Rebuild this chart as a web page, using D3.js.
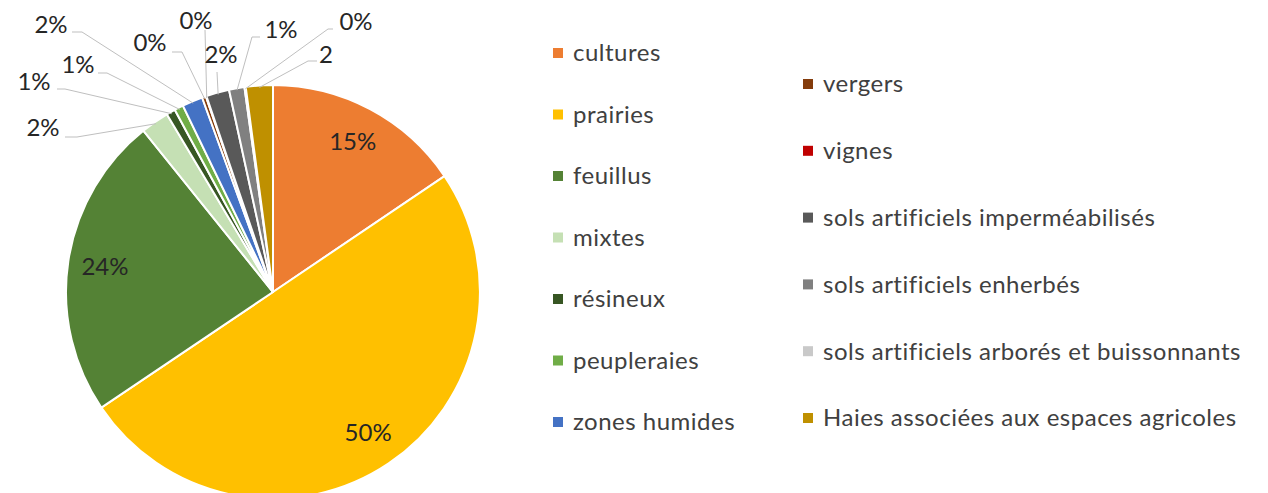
<!DOCTYPE html>
<html>
<head>
<meta charset="utf-8">
<script src="https://cdn.jsdelivr.net/npm/d3@7"></script>
<style>
  body { margin: 0; background: #fff; }
  text { font-family: Lato, "Open Sans", sans-serif; }
</style>
</head>
<body>
<div id="chart"></div>
<script>
// categories in clockwise order, starting at 12 o'clock
var categories = ["cultures", "prairies", "feuillus", "mixtes", "résineux", "peupleraies",
  "zones humides", "vergers", "vignes", "sols artificiels imperméabilisés",
  "sols artificiels enherbés", "sols artificiels arborés et buissonnants",
  "Haies associées aux espaces agricoles"];
// share of surface (%)
var shares = [15.5, 49.9, 23.6, 2.2, 0.7, 0.7, 1.6, 0.3, 0.05, 1.8, 1.2, 0.1, 2.1];
// the labels as printed on the chart (the last one is clipped in the original)
var labelTexts = ["15%", "50%", "24%", "2%", "1%", "1%", "2%", "0%", "0%", "2%", "1%", "0%", "2"];
var colors = ["#ED7D31", "#FFC000", "#548235", "#C5E0B4", "#375623", "#70AD47",
  "#4472C4", "#843C0C", "#C00000", "#595959", "#808080", "#C9C9C9", "#BF9000"];

var svgWidth = 1268;
var svgHeight = 493;
var cx = 273, cy = 292, radius = 207;

var svg = d3.select("#chart")
  .append("svg")
  .attr("width", svgWidth)
  .attr("height", svgHeight);

var data = categories.map(function(c, i) {
  return { name: c, value: shares[i], label: labelTexts[i], color: colors[i] };
});

var pie = d3.pie().sort(null).value(d => d.value);
var arcs = pie(data);

var arc = d3.arc().innerRadius(0).outerRadius(radius);
var labelArc = d3.arc().innerRadius(170).outerRadius(170);

var pieGroup = svg.append("g")
  .attr("transform", `translate(${cx}, ${cy})`);

pieGroup.selectAll("path")
  .data(arcs)
  .enter()
  .append("path")
  .attr("d", arc)
  .attr("fill", d => d.data.color)
  .attr("stroke", "#fff")
  .attr("stroke-width", 2)
  .attr("stroke-linejoin", "round");

// big slices: label inside
pieGroup.selectAll("text.inside")
  .data(arcs.slice(0, 3))
  .enter()
  .append("text")
  .attr("class", "inside")
  .attr("transform", d => `translate(${labelArc.centroid(d)})`)
  .attr("text-anchor", "middle")
  .attr("dy", "0.35em")
  .style("font-size", "24px")
  .attr("fill", "#262626")
  .text(d => d.data.label);

// small slices: label outside with a leader line
// [text x, text y, line start x, line start y, elbow x, elbow y] in page coords
var calloutLayout = [
  [43, 128, 65, 137, 77, 137],
  [34, 82, 57, 89, 65, 89],
  [78, 65, 98, 73, 107, 73],
  [51, 25, 72, 32, 82, 32],
  [150, 43, 172, 52, 182, 52],
  [196, 21, 205, 30, 205, 30],
  [221, 55, 217, 72, 217, 72],
  [281, 30, 260, 37, 252, 37],
  [356, 22, 333, 29, 328, 29],
  [326, 55, 317, 61, 308, 61]
];

var edgeArc = d3.arc().innerRadius(radius - 2).outerRadius(radius - 2);
var callouts = svg.append("g");

arcs.slice(3).forEach(function(d, i) {
  var lay = calloutLayout[i];
  var p = edgeArc.centroid(d);
  var ex = cx + p[0], ey = cy + p[1];
  callouts.append("polyline")
    .attr("points", `${lay[2]},${lay[3]} ${lay[4]},${lay[5]} ${ex},${ey}`)
    .attr("fill", "none")
    .attr("stroke", "#BFBFBF")
    .attr("stroke-width", 1);
  callouts.append("text")
    .attr("x", lay[0])
    .attr("y", lay[1])
    .attr("text-anchor", "middle")
    .attr("dy", "0.35em")
    .style("font-size", "24px")
    .attr("fill", "#262626")
    .text(d.data.label);
});

// legend, two columns
var legendCols = [
  { x: 553, y0: 53, step: 61.5, items: data.slice(0, 7) },
  { x: 803, y0: 84, step: 66.8, items: data.slice(7) }
];

legendCols.forEach(function(col) {
  var g = svg.append("g");
  var rows = g.selectAll("g")
    .data(col.items)
    .enter()
    .append("g")
    .attr("transform", (d, i) => `translate(${col.x}, ${col.y0 + i * col.step})`);
  rows.append("rect")
    .attr("x", 0)
    .attr("y", -5)
    .attr("width", 10)
    .attr("height", 10)
    .attr("fill", d => d.color);
  rows.append("text")
    .attr("x", 20)
    .attr("dy", "0.35em")
    .style("font-size", "24px")
    .style("letter-spacing", "0.5px")
    .attr("fill", "#404040")
    .text(d => d.name);
});
</script>
</body>
</html>
